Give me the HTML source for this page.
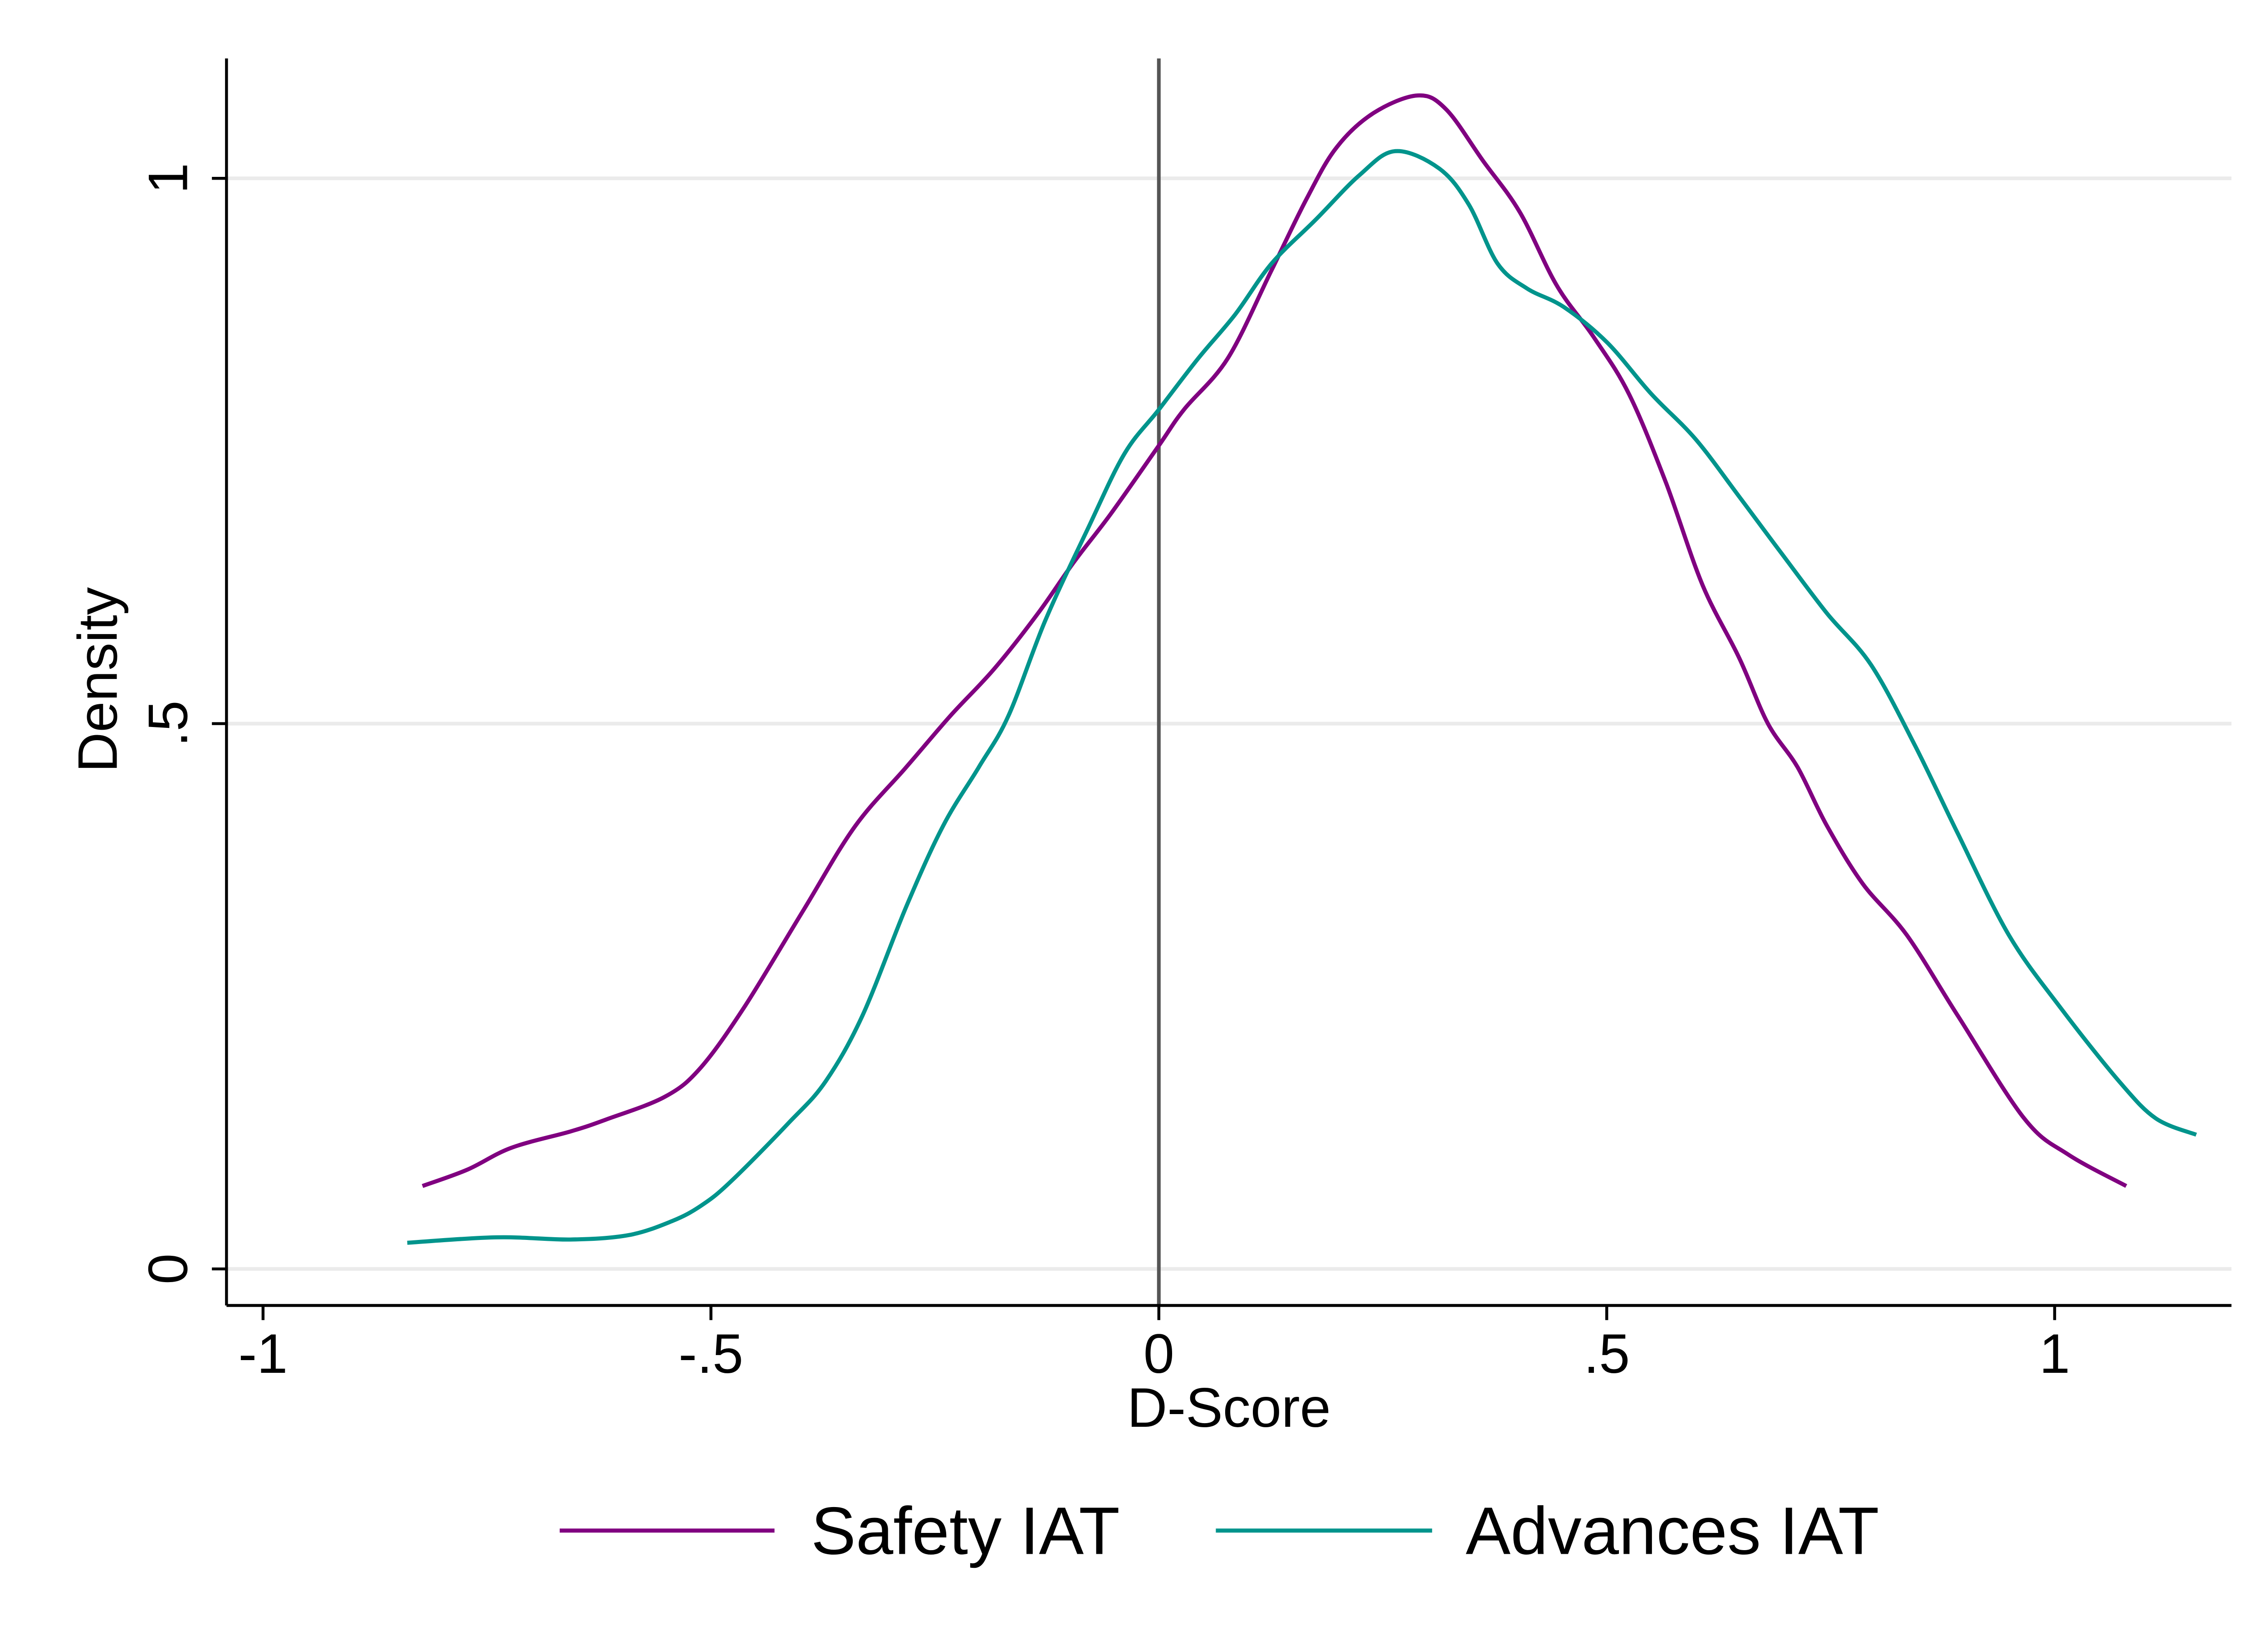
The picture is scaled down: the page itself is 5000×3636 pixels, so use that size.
<!DOCTYPE html>
<html><head><meta charset="utf-8"><style>
html,body{margin:0;padding:0;background:#fff;}
svg{display:block;}
text{font-family:"Liberation Sans",Arial,sans-serif;fill:#000;}
</style></head><body>
<svg id="chart" width="5000" height="3636" viewBox="0 0 1552 1128" preserveAspectRatio="none" xmlns="http://www.w3.org/2000/svg">
<rect x="0" y="0" width="1552" height="1128" fill="#fff"/>
<g id="grid"></g>
<g id="series"></g>
<g id="axes"></g>
</svg>
<script>
const xTicks = [-1, -0.5, 0, 0.5, 1];
const xTickLabels = ["-1", "-.5", "0", ".5", "1"];
const yTicks = [0, 0.5, 1];
const yTickLabels = ["0", ".5", "1"];
const seriesNames = ["Safety IAT", "Advances IAT"];
const seriesColors = ["#800080", "#00948c"];
const safetyX = [-0.822,-0.772,-0.723,-0.657,-0.617,-0.551,-0.511,-0.462,-0.396,-0.339,-0.282,-0.233,-0.184,-0.135,-0.095,-0.054,0,0.028,0.077,0.126,0.166,0.199,0.240,0.289,0.321,0.362,0.403,0.444,0.485,0.525,0.566,0.607,0.648,0.680,0.713,0.746,0.786,0.835,0.892,0.966,1.015,1.080];
const safetyY = [0.076,0.091,0.111,0.126,0.137,0.158,0.185,0.241,0.330,0.406,0.460,0.507,0.550,0.601,0.648,0.692,0.755,0.788,0.835,0.916,0.983,1.029,1.060,1.076,1.063,1.016,0.969,0.902,0.855,0.802,0.721,0.627,0.560,0.500,0.460,0.406,0.353,0.306,0.232,0.138,0.105,0.076];
const advX = [-0.839,-0.739,-0.657,-0.592,-0.543,-0.511,-0.478,-0.413,-0.372,-0.331,-0.282,-0.241,-0.201,-0.168,-0.127,-0.078,-0.038,0,0.044,0.085,0.126,0.175,0.224,0.264,0.313,0.346,0.378,0.411,0.452,0.501,0.550,0.599,0.648,0.697,0.746,0.795,0.844,0.892,0.949,1.007,1.072,1.113,1.158];
const advY = [0.024,0.029,0.027,0.031,0.044,0.058,0.080,0.134,0.172,0.232,0.332,0.406,0.460,0.507,0.594,0.681,0.748,0.788,0.835,0.875,0.922,0.962,1.003,1.025,1.009,0.976,0.922,0.899,0.882,0.849,0.802,0.761,0.708,0.654,0.601,0.554,0.480,0.399,0.306,0.239,0.172,0.138,0.123];

const NS="http://www.w3.org/2000/svg";
const X0=155,X1=1527,Y0=40,Y1=893;
function sx(v){return 793+v*613;}
function sy(v){return 868-v*746;}
function mk(tag,attrs,parent,txt){const e=document.createElementNS(NS,tag);for(const k in attrs)e.setAttribute(k,attrs[k]);if(txt!==undefined)e.textContent=txt;parent.appendChild(e);return e;}
const grid=document.getElementById('grid'),series=document.getElementById('series'),axes=document.getElementById('axes'),svg=document.getElementById('chart');

yTicks.forEach((t,i)=>{
  const g=mk('line',{x1:X0,x2:X1,y1:sy(t),y2:sy(t),stroke:'#ebebeb','stroke-width':2.5},grid);
  
  
});
const vl=mk('line',{x1:sx(0),x2:sx(0),y1:Y0,y2:Y1,stroke:'#555','stroke-width':2.5},grid);



function smoothPath(P){
  let d='M'+P[0][0].toFixed(1)+','+P[0][1].toFixed(1);
  for(let i=0;i<P.length-1;i++){
    const p0=P[Math.max(0,i-1)],p1=P[i],p2=P[i+1],p3=P[Math.min(P.length-1,i+2)];
    const c1x=p1[0]+(p2[0]-p0[0])/6,c1y=p1[1]+(p2[1]-p0[1])/6;
    const c2x=p2[0]-(p3[0]-p1[0])/6,c2y=p2[1]-(p3[1]-p1[1])/6;
    d+=` C${c1x.toFixed(1)},${c1y.toFixed(1)} ${c2x.toFixed(1)},${c2y.toFixed(1)} ${p2[0].toFixed(1)},${p2[1].toFixed(1)}`;
  }
  return d;
}
function drawSeries(xs,ys,color,name){
  const P=xs.map((x,i)=>[sx(x),sy(ys[i])]);
  const p=mk('path',{d:smoothPath(P),fill:'none',stroke:color,'stroke-width':2.8,'stroke-linejoin':'round'},series);
  
  
}
drawSeries(safetyX,safetyY,seriesColors[0],'safety-iat-line');
drawSeries(advX,advY,seriesColors[1],'advances-iat-line');

const ya=mk('line',{x1:X0,x2:X0,y1:Y0,y2:Y1,stroke:'#000','stroke-width':2},axes);


const xa=mk('line',{x1:X0,x2:X1,y1:Y1,y2:Y1,stroke:'#000','stroke-width':2},axes);



yTicks.forEach((t,i)=>{
  const tk=mk('line',{x1:X0-10,x2:X0,y1:sy(t),y2:sy(t),stroke:'#000','stroke-width':2},axes);
  
  
  const lb=mk('text',{x:0,y:0,'font-size':38,'text-anchor':'middle',transform:`translate(128,${sy(t)}) rotate(-90)`},axes,yTickLabels[i]);
  
  
});
xTicks.forEach((t,i)=>{
  const tk=mk('line',{x1:sx(t),x2:sx(t),y1:Y1,y2:Y1+10,stroke:'#000','stroke-width':2},axes);
  
  
  const lb=mk('text',{x:sx(t),y:939,'font-size':38,'text-anchor':'middle'},axes,xTickLabels[i]);
  
  
});
const yt=mk('text',{x:0,y:0,'font-size':38,'text-anchor':'middle',transform:'translate(80,465) rotate(-90)'},axes,'Density');


const xt=mk('text',{x:841,y:976,'font-size':38,'text-anchor':'middle'},axes,'D-Score');



const legendLines=[[383,530,555],[832,980,1003]];
seriesNames.forEach((n,i)=>{
  const l=mk('line',{x1:legendLines[i][0],x2:legendLines[i][1],y1:1047,y2:1047,stroke:seriesColors[i],'stroke-width':2.8},svg);
  
  
  const t=mk('text',{x:legendLines[i][2],y:1063,'font-size':46},svg,n);
  
  
});
</script>
</body></html>
